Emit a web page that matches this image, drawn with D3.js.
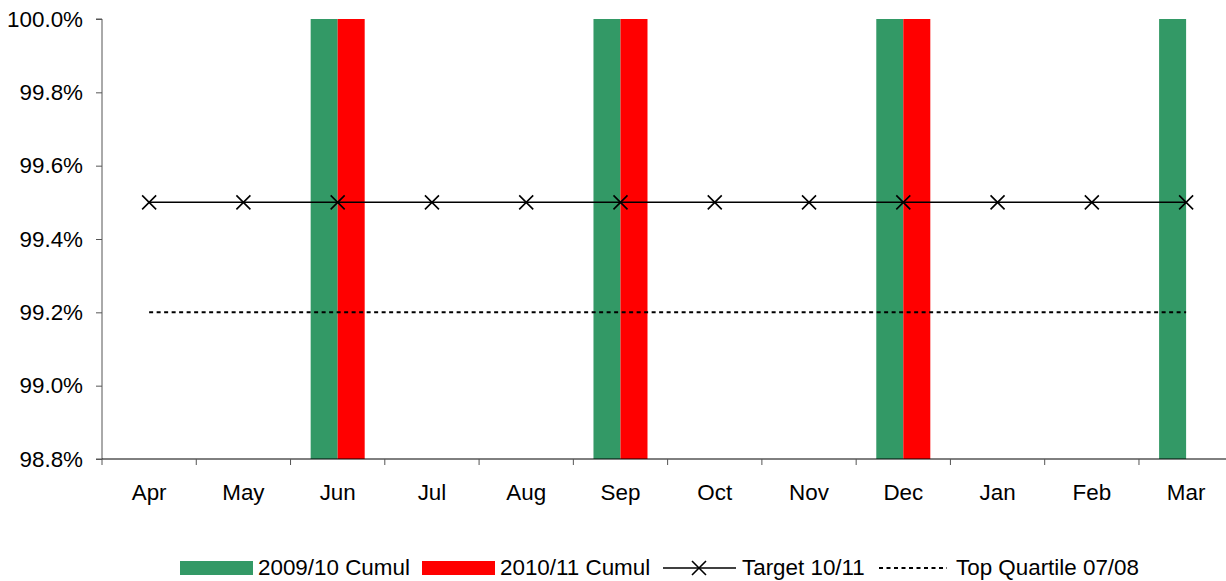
<!DOCTYPE html>
<meta charset="utf-8">
<script src="https://d3js.org/d3.v7.min.js"></script>
<style>
  body { margin: 0; background: #fff; }
  text { font-family: "Liberation Sans", Arial, sans-serif; }
</style>
<svg id="chart" width="1226" height="581"></svg>
<script>
// data
var months = ["Apr", "May", "Jun", "Jul", "Aug", "Sep", "Oct", "Nov", "Dec", "Jan", "Feb", "Mar"];
var cumul0910 = [null, null, 100, null, null, 100, null, null, 100, null, null, 100];
var cumul1011 = [null, null, 100, null, null, 100, null, null, 100, null, null, null];
var target1011 = [99.5, 99.5, 99.5, 99.5, 99.5, 99.5, 99.5, 99.5, 99.5, 99.5, 99.5, 99.5];
var topQuartile = [99.2, 99.2, 99.2, 99.2, 99.2, 99.2, 99.2, 99.2, 99.2, 99.2, 99.2, 99.2];
var yTicks = [98.8, 99.0, 99.2, 99.4, 99.6, 99.8, 100.0];
var seriesNames = ["2009/10 Cumul", "2010/11 Cumul", "Target 10/11", "Top Quartile 07/08"];

var svg = d3.select("#chart");
var plotLeft = 102, plotTop = 19, plotBottom = 459;
var step = 94.27;
var fs = 22.4;

var x = d3.scaleBand().domain(months).range([plotLeft, plotLeft + step * months.length]);
var x1 = d3.scaleBand().domain(["a", "b"]).range([0, x.bandwidth()]).paddingOuter(0.745);
var y = d3.scaleLinear().domain([98.8, 100]).range([plotBottom, plotTop]);

var barColors = { a: "#339966", b: "#ff0000" };

// bars
var barData = [];
months.forEach(function(m, i) {
  if (cumul0910[i] != null) barData.push({ m: m, k: "a", v: cumul0910[i] });
  if (cumul1011[i] != null) barData.push({ m: m, k: "b", v: cumul1011[i] });
});
svg.append("g").selectAll("rect")
  .data(barData)
  .enter().append("rect")
    .attr("x", function(d) { return x(d.m) + x1(d.k); })
    .attr("width", x1.bandwidth())
    .attr("y", function(d) { return y(d.v); })
    .attr("height", function(d) { return y(98.8) - y(d.v); })
    .attr("fill", function(d) { return barColors[d.k]; });

// y axis
var yAxis = svg.append("g")
  .attr("transform", "translate(" + plotLeft + ",0)")
  .call(d3.axisLeft(y).tickValues(yTicks).tickSize(6).tickPadding(13)
    .tickFormat(function(d) { return d3.format(".1f")(d) + "%"; }));
yAxis.select(".domain").attr("stroke", "#555").attr("d", "M-6," + plotTop + "H0V" + plotBottom + "H-6");
yAxis.selectAll(".tick line").attr("stroke", "#555");
yAxis.selectAll("text").attr("font-size", fs).attr("fill", "#000")
  .attr("font-family", "Liberation Sans, Arial, sans-serif");

// x axis
var xAxis = svg.append("g")
  .attr("transform", "translate(0," + plotBottom + ")")
  .call(d3.axisBottom(x).tickSize(0).tickPadding(25));
xAxis.select(".domain").attr("stroke", "#000").attr("d", "M" + plotLeft + ",0H1226");
xAxis.selectAll("text").attr("font-size", fs).attr("fill", "#000")
  .attr("font-family", "Liberation Sans, Arial, sans-serif");
xAxis.append("g").selectAll("line")
  .data(months)
  .enter().append("line")
    .attr("x1", function(d) { return x(d); })
    .attr("x2", function(d) { return x(d); })
    .attr("y1", 0).attr("y2", 6)
    .attr("stroke", "#555");

// lines
var cx = function(d, i) { return x(months[i]) + x.bandwidth() / 2; };
var line = d3.line().x(cx).y(function(d) { return y(d); });

svg.append("path")
  .datum(topQuartile)
  .attr("d", line)
  .attr("fill", "none").attr("stroke", "#000").attr("stroke-width", 2)
  .attr("stroke-dasharray", "4,3.5");

svg.append("path")
  .datum(target1011)
  .attr("d", line)
  .attr("fill", "none").attr("stroke", "#000").attr("stroke-width", 1.5);

var cross = function(px, py, r) {
  return "M" + (px - r) + "," + (py - r) + "L" + (px + r) + "," + (py + r) +
    "M" + (px - r) + "," + (py + r) + "L" + (px + r) + "," + (py - r);
};
svg.append("g").selectAll("path")
  .data(target1011)
  .enter().append("path")
    .attr("d", function(d, i) { return cross(cx(d, i), y(d), 7); })
    .attr("stroke", "#000").attr("stroke-width", 1.6).attr("fill", "none");

// legend
var lg = svg.append("g").attr("font-size", fs);
lg.append("rect").attr("x", 180).attr("y", 561).attr("width", 73).attr("height", 14).attr("fill", barColors.a);
lg.append("text").attr("x", 258).attr("y", 575).text(seriesNames[0]);
lg.append("rect").attr("x", 422).attr("y", 561).attr("width", 73).attr("height", 14).attr("fill", barColors.b);
lg.append("text").attr("x", 500).attr("y", 575).text(seriesNames[1]);
lg.append("line").attr("x1", 663).attr("x2", 736).attr("y1", 568).attr("y2", 568)
  .attr("stroke", "#000").attr("stroke-width", 1.5);
lg.append("path").attr("d", cross(699, 568, 7)).attr("stroke", "#000").attr("stroke-width", 1.6);
lg.append("text").attr("x", 742).attr("y", 575).text(seriesNames[2]);
lg.append("line").attr("x1", 879).attr("x2", 947).attr("y1", 568).attr("y2", 568)
  .attr("stroke", "#000").attr("stroke-width", 2).attr("stroke-dasharray", "4,3.5");
lg.append("text").attr("x", 956).attr("y", 575).text(seriesNames[3]);
</script>
